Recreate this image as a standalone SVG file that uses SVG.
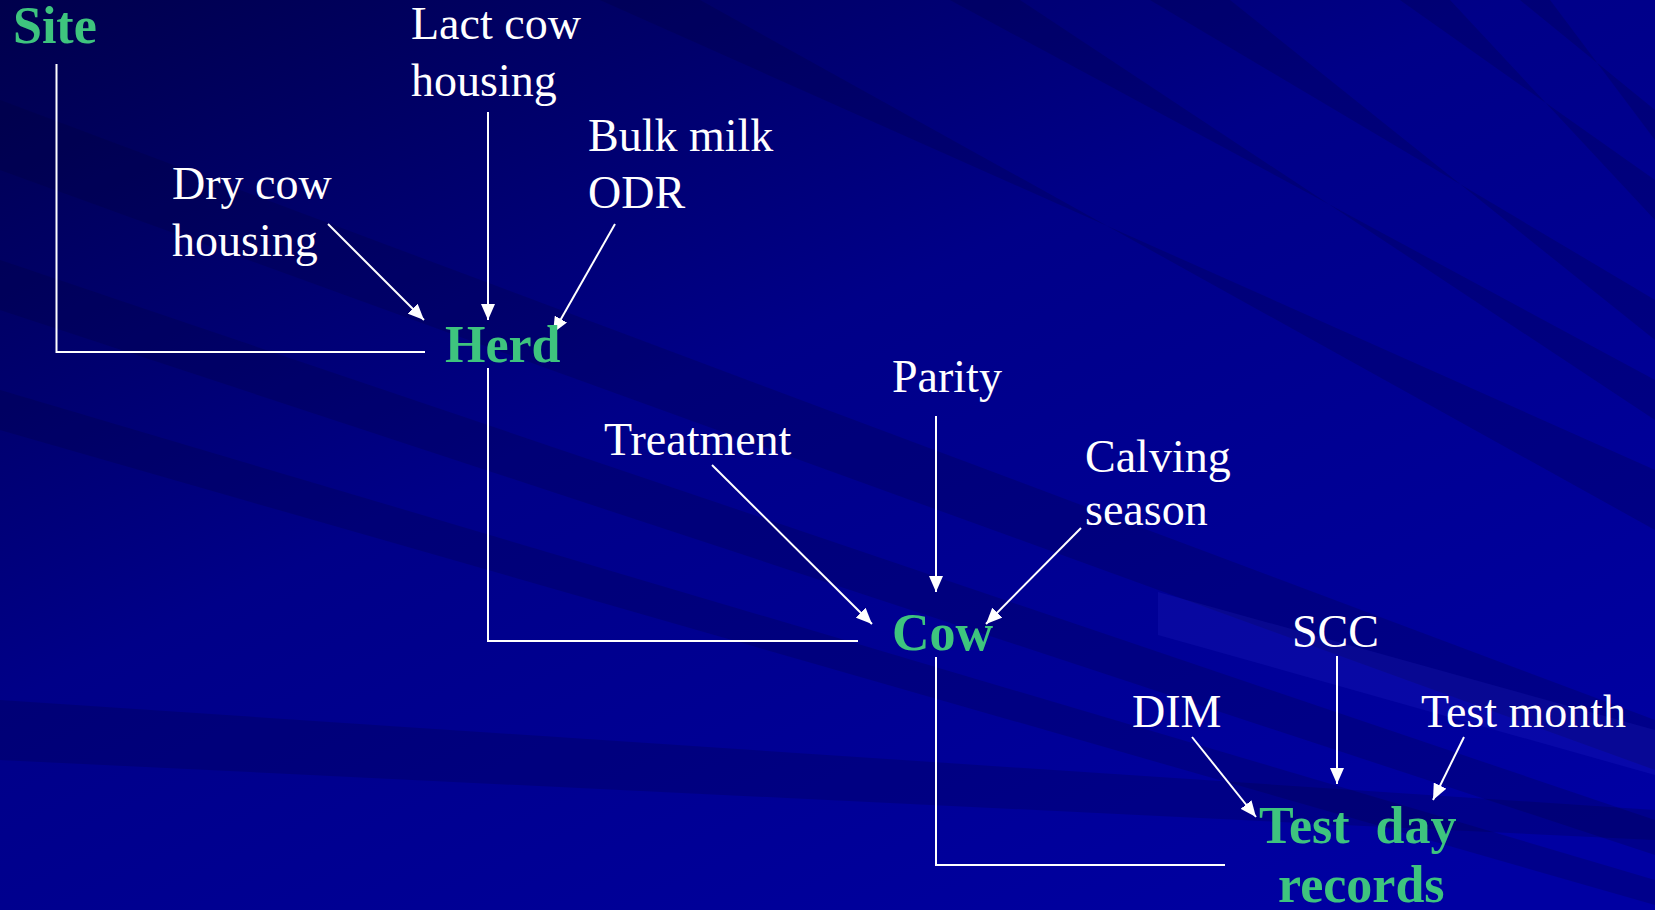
<svg xmlns="http://www.w3.org/2000/svg" width="1655" height="910" viewBox="0 0 1655 910">
<defs>
<linearGradient id="bg" x1="0" y1="0" x2="0.85" y2="1">
<stop offset="0" stop-color="#00004c"/>
<stop offset="0.45" stop-color="#000088"/>
<stop offset="1" stop-color="#0000a2"/>
</linearGradient>
<marker id="ah" viewBox="0 0 16 14" refX="16" refY="7" markerWidth="16" markerHeight="14" markerUnits="userSpaceOnUse" orient="auto">
<path d="M0,0 L16,7 L0,14 z" fill="#ffffff"/>
</marker>
<style>
.lbl{font-family:"Liberation Serif","Times New Roman",serif;font-size:46px;fill:#ffffff}
.key{font-family:"Liberation Serif","Times New Roman",serif;font-size:52px;font-weight:bold;fill:#3ec47e}
.ln{fill:none;stroke:#ffffff;stroke-width:2}
.ar{fill:none;stroke:#ffffff;stroke-width:2;marker-end:url(#ah)}
.dk{fill:#000030;opacity:0.2}
.lt{fill:#5050ff;opacity:0.1}
</style>
</defs>
<rect width="1655" height="910" fill="url(#bg)"/>
<g id="background-streaks">
<polygon class="dk" points="0,100 1655,720 1655,770 0,170"/>
<polygon class="dk" points="0,260 1655,820 1655,855 0,310"/>
<polygon class="dk" points="0,390 1655,880 1655,905 0,430"/>
<polygon class="dk" points="0,700 1655,810 1655,840 0,760"/>
<polygon class="dk" points="600,0 1655,470 1655,530 700,0"/>
<polygon class="dk" points="950,0 1655,380 1655,420 1020,0"/>
<polygon class="dk" points="1150,0 1655,300 1655,340 1230,0"/>
<polygon class="dk" points="1400,0 1655,180 1655,220 1450,0"/>
<polygon class="dk" points="1520,0 1655,110 1655,140 1550,0"/>
<polygon class="lt" points="1158,592 1655,730 1655,775 1158,635"/>
</g>
<g id="connectors">
<polyline class="ln" points="56.5,64 56.5,352 425,352"/>
<polyline class="ln" points="488,368 488,641 858,641"/>
<polyline class="ln" points="936,657 936,865 1225,865"/>
<line class="ar" x1="488" y1="112" x2="488" y2="320"/>
<line class="ar" x1="328" y1="224" x2="424" y2="320"/>
<line class="ar" x1="615" y1="224" x2="553" y2="333"/>
<line class="ar" x1="936" y1="416" x2="936" y2="592"/>
<line class="ar" x1="712" y1="465" x2="872" y2="624"/>
<line class="ar" x1="1081" y1="528" x2="986" y2="624"/>
<line class="ar" x1="1337" y1="656" x2="1337" y2="784"/>
<line class="ar" x1="1192" y1="737" x2="1256" y2="817"/>
<line class="ar" x1="1464" y1="737" x2="1433" y2="800"/>
</g>
<g id="site"><text class="key" x="13" y="43">Site</text></g>
<g id="herd"><text class="key" x="445" y="362">Herd</text></g>
<g id="cow"><text class="key" x="892" y="650">Cow</text></g>
<g id="testday"><text class="key" x="1259" y="843" xml:space="preserve">Test  day</text><text class="key" x="1278" y="902">records</text></g>
<g id="lact"><text class="lbl" x="411" y="39">Lact cow</text><text class="lbl" x="411" y="96">housing</text></g>
<g id="dry"><text class="lbl" x="172" y="199">Dry cow</text><text class="lbl" x="172" y="256">housing</text></g>
<g id="bulk"><text class="lbl" x="588" y="151">Bulk milk</text><text class="lbl" x="588" y="208">ODR</text></g>
<g id="parity"><text class="lbl" x="892" y="392">Parity</text></g>
<g id="treatment"><text class="lbl" x="604" y="455">Treatment</text></g>
<g id="calving"><text class="lbl" x="1085" y="472">Calving</text><text class="lbl" x="1085" y="525">season</text></g>
<g id="scc"><text class="lbl" x="1292" y="647">SCC</text></g>
<g id="dim"><text class="lbl" x="1132" y="727">DIM</text></g>
<g id="testmonth"><text class="lbl" x="1421" y="727">Test month</text></g>
</svg>
